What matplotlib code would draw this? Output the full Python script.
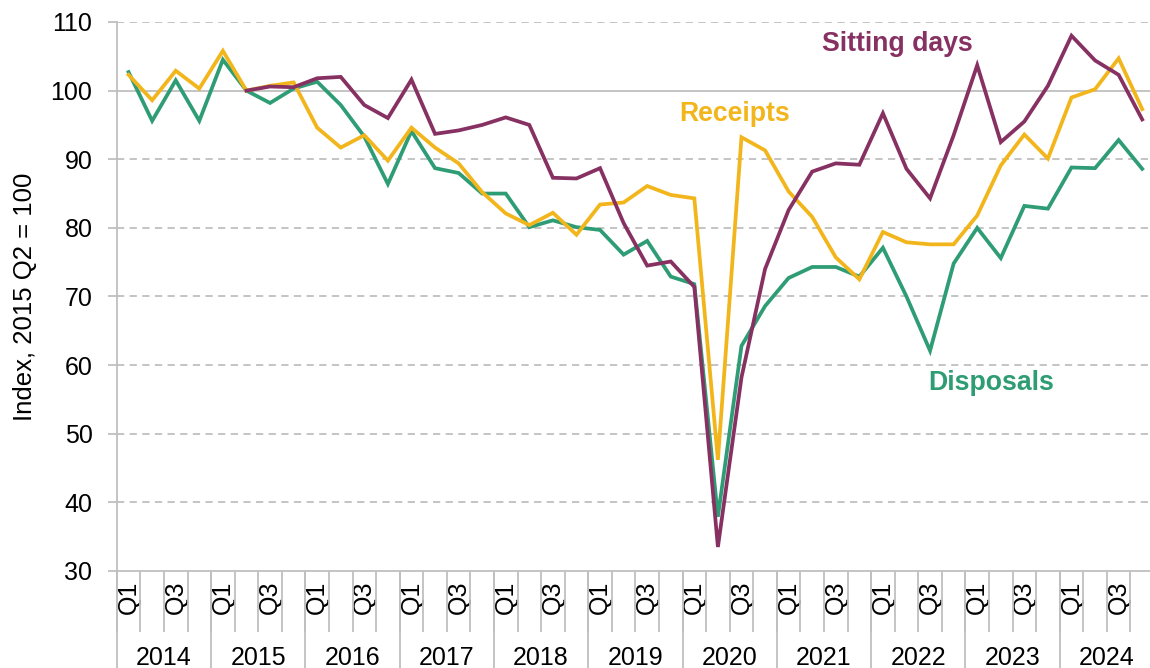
import numpy as np
import matplotlib
matplotlib.use("Agg")
import matplotlib.pyplot as plt

plt.rcParams['font.family'] = ['Liberation Sans', 'DejaVu Sans']

years = [str(y) for y in range(2014, 2025)]
quarters = ["Q1", "", "Q3", ""] * len(years)

receipts = [102.3, 98.6, 102.9, 100.3, 105.8, 100.0, 100.7, 101.2, 94.6, 91.7, 93.5, 89.8,
            94.6, 91.7, 89.4, 85.2, 82.1, 80.4, 82.2, 79.0, 83.4, 83.7, 86.1, 84.8,
            84.3, 46.2, 93.2, 91.3, 85.3, 81.6, 75.7, 72.5, 79.4, 77.9, 77.6, 77.6,
            81.8, 89.1, 93.6, 90.1, 99.0, 100.2, 104.7, 97.3]
disposals = [102.7, 95.6, 101.5, 95.6, 104.5, 100.0, 98.2, 100.3, 101.3, 97.9, 93.3, 86.4,
             94.1, 88.7, 88.0, 85.0, 85.0, 80.1, 81.1, 80.1, 79.7, 76.1, 78.1, 72.9,
             71.8, 37.9, 62.8, 68.6, 72.7, 74.3, 74.3, 72.9, 77.1, 70.0, 62.1, 74.8,
             80.0, 75.6, 83.2, 82.8, 88.8, 88.7, 92.8, 88.6]
sitting_days = [np.nan, np.nan, np.nan, np.nan, np.nan, 100.0, 100.6, 100.5, 101.8, 102.0, 97.9, 96.0,
                101.6, 93.7, 94.2, 95.0, 96.1, 95.0, 87.3, 87.2, 88.7, 80.7, 74.5, 75.1,
                71.4, 33.5, 58.2, 74.0, 82.6, 88.2, 89.4, 89.2, 96.7, 88.6, 84.3, 93.5,
                103.7, 92.5, 95.5, 100.7, 108.0, 104.4, 102.3, 95.8]

C_PURPLE = "#873163"
C_YELLOW = "#F2B61C"
C_GREEN = "#2E9C74"
GRID = "#BFBFBF"

W, H = 1150, 668
fig = plt.figure(figsize=(W / 100, H / 100), dpi=100)
ax_left, ax_right = 116.8, 1154.0
ax_top, ax_bot = 22.0, 571.0
ax = fig.add_axes([ax_left / W, 1 - ax_bot / H, (ax_right - ax_left) / W, (ax_bot - ax_top) / H])

x = np.arange(len(quarters))
lw = 2.7
ax.plot(x, disposals, color=C_GREEN, lw=lw, zorder=3, solid_joinstyle='miter')
ax.plot(x, receipts, color=C_YELLOW, lw=lw, zorder=4, solid_joinstyle='miter')
ax.plot(x, sitting_days, color=C_PURPLE, lw=lw, zorder=5, solid_joinstyle='miter')

ax.set_xlim(-0.5, len(quarters) - 0.5)
ax.set_ylim(30, 110)
ax.set_yticks(np.arange(30, 111, 10))
for v in range(40, 111, 10):
    if v == 100:
        ax.axhline(v, color=GRID, lw=1.3, zorder=1)
    else:
        ax.axhline(v, color=GRID, lw=1.3, ls=(0, (4, 3)), zorder=1)

for s in ["top", "right"]:
    ax.spines[s].set_visible(False)
for s in ["left", "bottom"]:
    ax.spines[s].set_color(GRID)
    ax.spines[s].set_linewidth(1.3)

ax.tick_params(axis='y', length=6.5, width=1.3, color=GRID, labelsize=18, pad=11, labelcolor='black')

# quarter labels
ax.set_xticks(x)
ax.set_xticklabels(quarters, rotation=90, va='top', ha='center')
ax.tick_params(axis='x', which='major', length=0, labelsize=18, pad=7)
ax.set_xticks(np.arange(-0.5, len(quarters), 1.0), minor=True)
ax.tick_params(axis='x', which='minor', length=44, width=1.3, color=GRID)

# years
sec = ax.secondary_xaxis('bottom')
sec.spines['bottom'].set_visible(False)
sec.set_xticks(np.arange(-0.5, len(quarters) + 0.1, 4.0))
sec.set_xticklabels([])
sec.tick_params(axis='x', which='major', length=80, width=1.3, color=GRID)
sec.set_xticks(np.arange(1.5, len(quarters), 4.0), minor=True)
sec.set_xticklabels(years, minor=True)
sec.tick_params(axis='x', which='minor', length=0, labelsize=18, pad=54)

ax.set_ylabel("Index, 2015 Q2 = 100", fontsize=18.5, labelpad=10)

ax.text(32.6, 106.8, "Sitting days", color=C_PURPLE, fontsize=19.2, fontweight='bold',
        ha='center', va='center')
ax.text(25.7, 96.6, "Receipts", color=C_YELLOW, fontsize=19.2, fontweight='bold',
        ha='center', va='center')
ax.text(36.6, 57.4, "Disposals", color=C_GREEN, fontsize=19.2, fontweight='bold',
        ha='center', va='center')

fig.savefig("out.png", dpi=100)
